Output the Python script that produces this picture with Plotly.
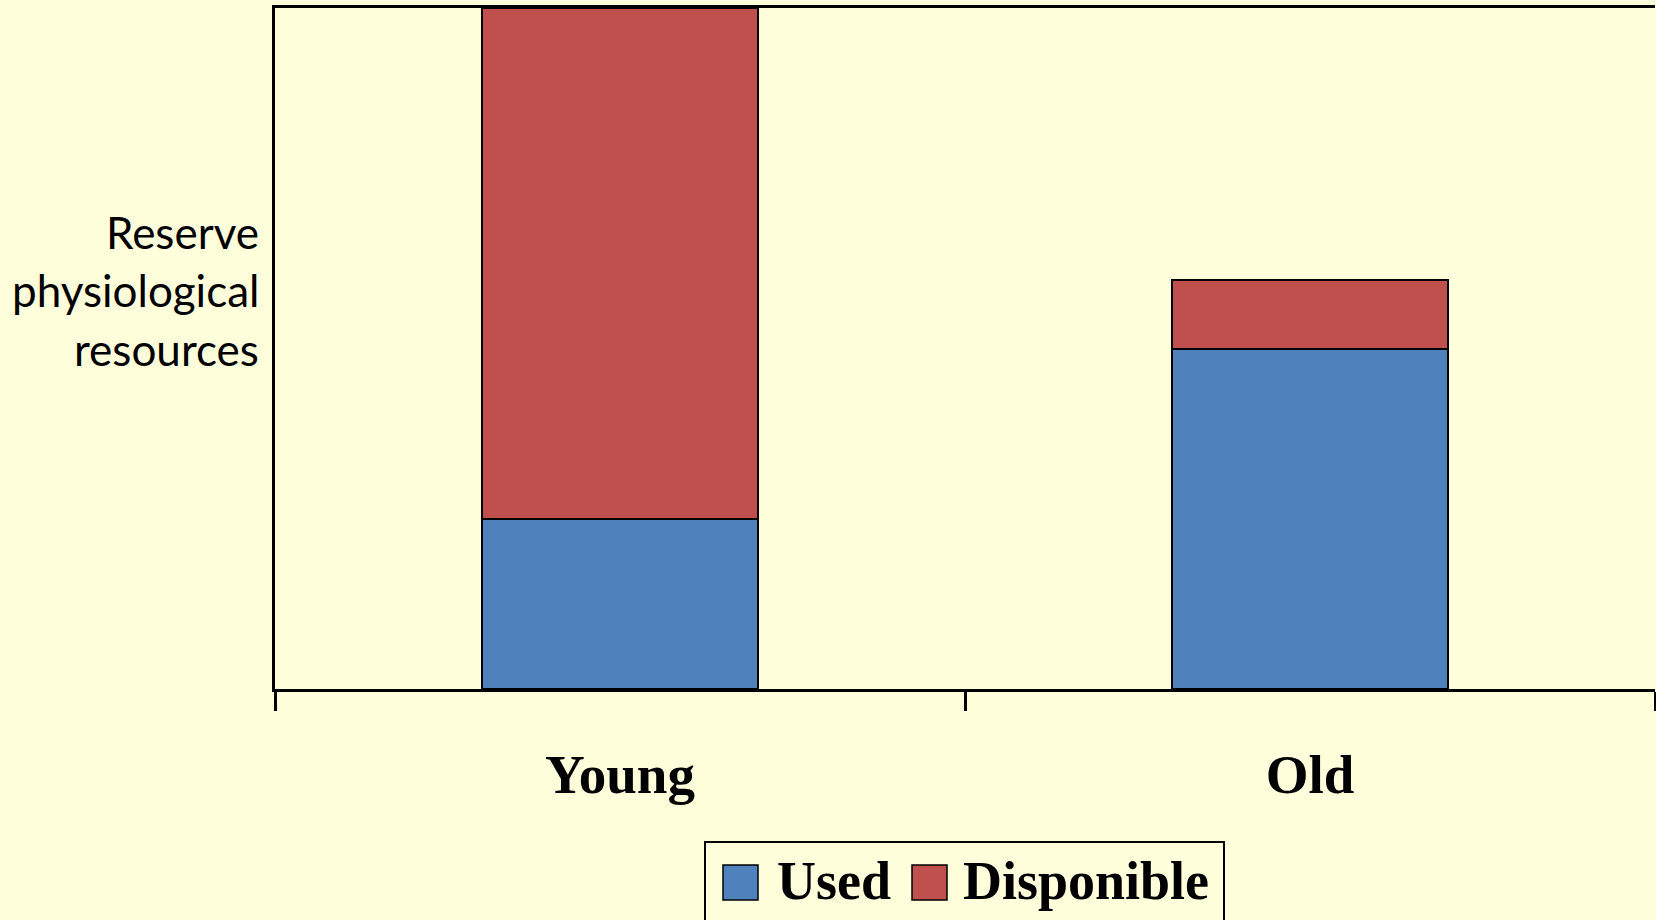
import plotly.graph_objects as go

# Data
categories = ["Young", "Old"]
series_names = ["Used", "Disponible"]
used = [25, 50]
disponible = [75, 10]
y_label_lines = ["Reserve", "physiological", "resources"]

BG = "#FFFFDC"
BLUE = "#4F81BD"
RED = "#C0504D"
W, H = 1656, 920
ML, MR, MT, MB = 275, 1, 8, 231
PW, PH = W - ML - MR, H - MT - MB


def px_x(px):
    return (px - ML) / PW


def px_y(py):
    return (H - MB - py) / PH


fig = go.Figure()
for name, vals, col in [(series_names[0], used, BLUE), (series_names[1], disponible, RED)]:
    fig.add_trace(go.Bar(
        x=categories, y=vals, name=name,
        marker=dict(color=col, line=dict(color="black", width=2)),
        showlegend=False,
    ))

# y-axis title, right aligned, three lines
for txt, py in zip(y_label_lines, [232, 290, 349]):
    fig.add_annotation(
        xref="paper", yref="paper", x=px_x(261), y=px_y(py),
        xanchor="right", yanchor="middle", text=txt, showarrow=False,
        font=dict(family="Lato", size=44, color="black"),
    )

# legend box drawn by hand
fig.add_shape(type="rect", xref="paper", yref="paper",
              x0=px_x(705), x1=px_x(1224), y0=px_y(930), y1=px_y(842),
              line=dict(color="black", width=2), fillcolor=BG, layer="above")
for (sx0, tx), name, col in zip([(723, 775), (912, 961)], series_names, [BLUE, RED]):
    fig.add_shape(type="rect", xref="paper", yref="paper",
                  x0=px_x(sx0), x1=px_x(sx0 + 35), y0=px_y(900), y1=px_y(865),
                  line=dict(color="black", width=1.5), fillcolor=col, layer="above")
    fig.add_annotation(
        xref="paper", yref="paper", x=px_x(tx), y=px_y(881),
        xanchor="left", yanchor="middle", text=f"<b>{name}</b>", showarrow=False,
        font=dict(family="Liberation Serif", size=54, color="black"),
    )

fig.update_layout(
    width=W, height=H,
    margin=dict(l=ML, r=MR, t=MT, b=MB, pad=0),
    barmode="stack", bargap=0.6,
    paper_bgcolor=BG, plot_bgcolor=BG,
    showlegend=False,
)
fig.update_xaxes(
    type="category", tickson="boundaries", ticks="outside", ticklen=19,
    tickwidth=2.5, tickcolor="black", showline=True, linecolor="black",
    linewidth=2.5, mirror=True, showgrid=False, ticklabelstandoff=35,
    tickfont=dict(family="Liberation Serif", size=55, color="black"),
    tickprefix="<b>", ticksuffix="</b>",
)
fig.update_yaxes(
    range=[0, 100], showline=True, linecolor="black", linewidth=2.5,
    showticklabels=False, ticks="", showgrid=False, zeroline=False,
)

fig.write_html("out.html")
